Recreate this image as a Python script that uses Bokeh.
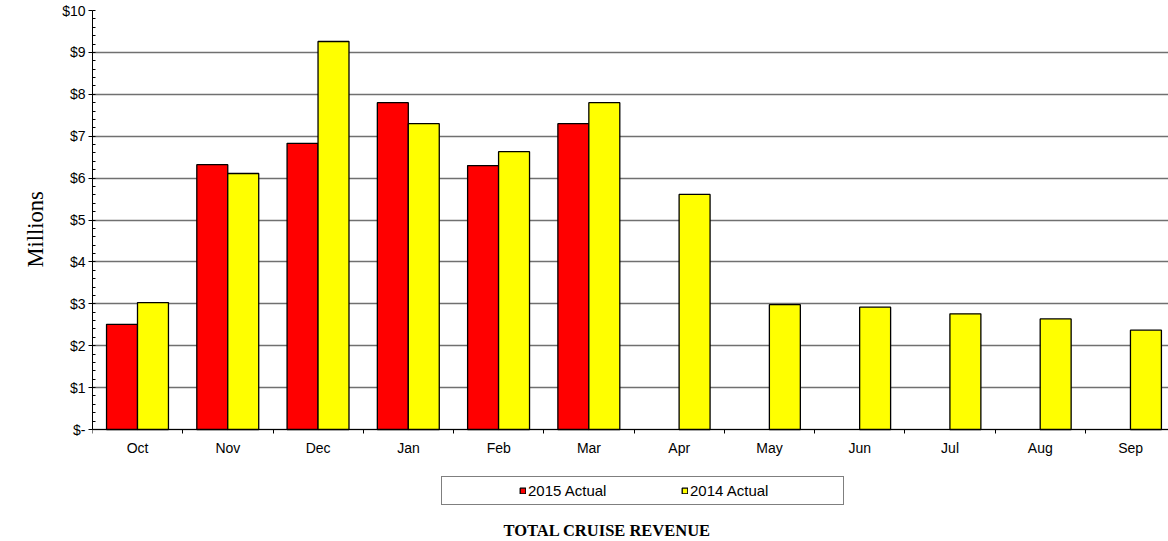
from bokeh.plotting import figure
from bokeh.models import (Range1d, FixedTicker, Legend, LegendItem, Title,
                          ColumnDataSource, LinearAxis)
from bokeh.embed import file_html
from bokeh.resources import INLINE

months = ["Oct", "Nov", "Dec", "Jan", "Feb", "Mar", "Apr", "May", "Jun", "Jul", "Aug", "Sep"]
rev_2015 = [2.51, 6.32, 6.83, 7.80, 6.30, 7.30]
rev_2014 = [3.03, 6.11, 9.26, 7.30, 6.63, 7.80, 5.61, 2.98, 2.92, 2.76, 2.64, 2.37]
y_ticks = [0, 1, 2, 3, 4, 5, 6, 7, 8, 9, 10]
y_tick_labels = ["$-", "$1", "$2", "$3", "$4", "$5", "$6", "$7", "$8", "$9", "$10"]

BAR_W = 0.343
src15 = ColumnDataSource(dict(x=[i + 0.327 for i in range(len(rev_2015))], top=rev_2015))
src14 = ColumnDataSource(dict(x=[i + 0.670 for i in range(len(rev_2014))], top=rev_2014))

W, H = 1168, 541
FRAME_TOP, FRAME_BOTTOM, ZERO_Y = 10, 518, 429
px_per_unit = (ZERO_Y - FRAME_TOP) / 10.0
y_start = -(FRAME_BOTTOM - ZERO_Y) / px_per_unit

p = figure(width=W, height=H, output_backend="svg", toolbar_location=None,
           x_range=Range1d(0, 11.92), y_range=Range1d(y_start, 10),
           x_axis_location=None,
           min_border_left=92, min_border_right=0, min_border_top=FRAME_TOP,
           min_border_bottom=H - FRAME_BOTTOM)
p.outline_line_color = None
p.background_fill_color = "white"
p.border_fill_color = "white"

r15 = p.vbar(x="x", top="top", width=BAR_W, bottom=0, source=src15,
             fill_color="#FF0000", line_color="black", line_width=1.3)
r14 = p.vbar(x="x", top="top", width=BAR_W, bottom=0, source=src14,
             fill_color="#FFFF00", line_color="black", line_width=1.3)

xa = LinearAxis(fixed_location=0)
xa.ticker = FixedTicker(ticks=[i + 0.5 for i in range(len(months))],
                        minor_ticks=list(range(len(months) + 1)))
xa.major_label_overrides = {i + 0.5: m for i, m in enumerate(months)}
xa.major_tick_out = 0
xa.major_tick_in = 0
xa.minor_tick_out = 4
xa.minor_tick_in = 0
xa.minor_tick_line_color = "black"
xa.axis_line_color = "black"
xa.major_label_standoff = 6
xa.major_label_text_font = "Liberation Sans"
xa.major_label_text_font_size = "14px"
xa.major_label_text_color = "black"
p.add_layout(xa, "below")

ya = p.yaxis[0]
ya.bounds = (0, 10)
ya.ticker = FixedTicker(ticks=y_ticks, minor_ticks=[k * 0.2 for k in range(51)])
ya.major_label_overrides = {t: l for t, l in zip(y_ticks, y_tick_labels)}
ya.major_tick_out = 4
ya.major_tick_in = 0
ya.minor_tick_in = 3
ya.minor_tick_out = 0
ya.major_tick_line_color = "black"
ya.minor_tick_line_color = "black"
ya.axis_line_color = "black"
ya.major_label_standoff = 3
ya.major_label_text_font = "Liberation Sans"
ya.major_label_text_font_size = "14px"
ya.major_label_text_color = "black"

# y axis title, positioned along the 0..10 part of the frame
ytitle = Title(text="Millions", align="left", offset=FRAME_BOTTOM - 267,
               vertical_align="top",
               text_font="Liberation Serif", text_font_style="normal",
               text_font_size="22.5px", text_color="black", standoff=20)
p.add_layout(ytitle, "left")

p.xgrid.grid_line_color = None
p.ygrid.grid_line_color = "#707070"
p.ygrid.grid_line_width = 1.4

legend = Legend(items=[LegendItem(label="2015 Actual", renderers=[r15]),
                       LegendItem(label="2014 Actual", renderers=[r14])],
                orientation="horizontal", location=(349, FRAME_BOTTOM - 505),
                glyph_width=7, glyph_height=7, label_standoff=2, label_width=80,
                spacing=73, margin=0,
                border_line_color="black", border_line_width=1,
                background_fill_color="white", background_fill_alpha=1.0,
                label_text_font="Liberation Sans", label_text_font_size="15px",
                label_text_color="black")
try:
    legend.padding = dict(left=77, right=73, top=5, bottom=5)
except Exception:
    legend.padding = 6
p.add_layout(legend)

t = Title(text="TOTAL CRUISE REVENUE", align="left", offset=411, standoff=0,
          text_font="Liberation Serif", text_font_style="bold",
          text_font_size="16.5px", text_color="black")
p.add_layout(t, "below")

open("out.html", "w").write(file_html(p, INLINE))
